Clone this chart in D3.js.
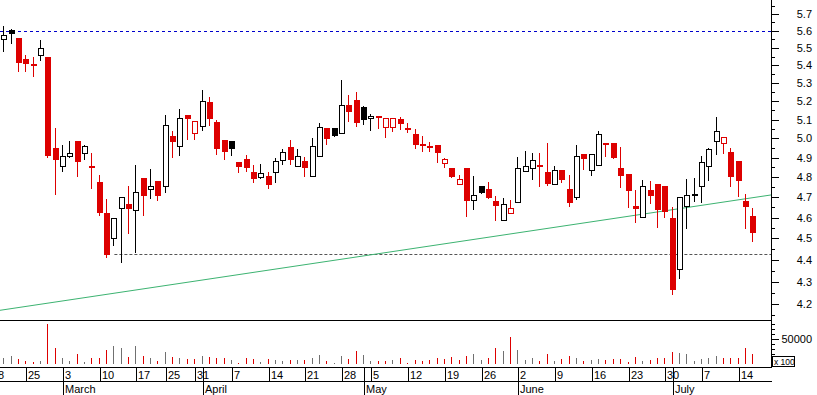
<!DOCTYPE html>
<html>
<head>
<meta charset="utf-8">
<script src="https://cdn.jsdelivr.net/npm/d3@7"></script>
<style>
  body { margin: 0; background: #fff; }
  text { font-family: "Liberation Sans", Arial, sans-serif; }
</style>
</head>
<body>
<svg id="chart" width="817" height="395"></svg>
<script>
// Trading days shown on the chart
const dates = [
  "2008-02-20","2008-02-21","2008-02-22","2008-02-25","2008-02-26","2008-02-27","2008-02-28","2008-02-29",
  "2008-03-03","2008-03-04","2008-03-05","2008-03-06","2008-03-07","2008-03-10","2008-03-11","2008-03-12",
  "2008-03-13","2008-03-14","2008-03-17","2008-03-18","2008-03-19","2008-03-20","2008-03-25","2008-03-26",
  "2008-03-27","2008-03-28","2008-03-31",
  "2008-04-01","2008-04-02","2008-04-03","2008-04-04","2008-04-07","2008-04-08","2008-04-09","2008-04-10",
  "2008-04-11","2008-04-14","2008-04-15","2008-04-16","2008-04-17","2008-04-18","2008-04-21","2008-04-22",
  "2008-04-23","2008-04-24","2008-04-25","2008-04-28","2008-04-29","2008-04-30",
  "2008-05-02","2008-05-05","2008-05-06","2008-05-07","2008-05-08","2008-05-09","2008-05-12","2008-05-13",
  "2008-05-14","2008-05-15","2008-05-16","2008-05-19","2008-05-20","2008-05-21","2008-05-22","2008-05-23",
  "2008-05-26","2008-05-27","2008-05-28","2008-05-29","2008-05-30",
  "2008-06-02","2008-06-03","2008-06-04","2008-06-05","2008-06-06","2008-06-09","2008-06-10","2008-06-11",
  "2008-06-12","2008-06-13","2008-06-16","2008-06-17","2008-06-18","2008-06-19","2008-06-20","2008-06-23",
  "2008-06-24","2008-06-25","2008-06-26","2008-06-27","2008-06-30",
  "2008-07-01","2008-07-02","2008-07-03","2008-07-04","2008-07-07","2008-07-08","2008-07-09","2008-07-10",
  "2008-07-11","2008-07-14","2008-07-15","2008-07-16"
];

const open = [
  5.55,5.604,5.558,5.436,5.408,5.457,5.447,4.95,4.855,4.91,4.986,4.922,4.858,4.775,4.621,4.504,4.646,4.665,4.636,4.796,
  4.739,4.78,4.754,5.013,4.959,5.125,5.027,5.064,5.195,5.087,4.99,4.986,4.877,4.893,4.826,4.803,4.806,4.828,4.886,4.955,
  4.858,4.883,4.805,4.907,5.055,5.055,5.027,5.179,5.206,5.168,5.107,5.118,5.059,5.062,5.102,5.057,5.023,4.97,4.962,4.965,
  4.873,4.848,4.764,4.848,4.685,4.754,4.739,4.682,4.589,4.623,4.675,4.83,4.845,4.862,4.824,4.767,4.839,4.741,4.699,4.917,
  4.835,4.86,4.974,4.974,4.847,4.814,4.656,4.603,4.736,4.765,4.756,4.6,4.357,4.656,4.716,4.754,4.855,4.984,4.977,4.931,
  4.883,4.682,4.608
];
const high = [
  5.63,5.608,5.558,5.458,5.447,5.545,5.447,5.055,4.965,4.986,4.986,4.965,4.926,4.809,4.691,4.597,4.70,4.754,4.86,4.796,
  4.842,4.78,5.125,5.039,5.157,5.125,5.095,5.262,5.223,5.098,4.99,4.986,4.877,4.915,4.863,4.866,4.826,4.90,4.945,4.99,
  4.945,4.905,5.0,5.081,5.055,5.055,5.318,5.234,5.251,5.174,5.131,5.118,5.11,5.11,5.114,5.084,5.051,5.013,4.981,4.965,
  4.896,4.848,4.809,4.848,4.806,4.754,4.775,4.706,4.697,4.687,4.904,4.934,4.924,4.924,4.974,4.858,4.839,4.809,4.965,4.917,
  4.92,5.039,4.976,4.976,4.955,4.814,4.736,4.785,4.78,4.765,4.756,4.652,4.699,4.79,4.795,4.91,4.95,5.114,5.009,4.95,
  4.883,4.715,4.645
];
const low = [
  5.48,5.53,5.37,5.366,5.341,5.43,4.905,4.717,4.833,4.905,4.808,4.891,4.747,4.611,4.411,4.467,4.391,4.528,4.437,4.614,
  4.695,4.687,4.727,4.905,4.915,4.998,4.998,5.043,5.073,4.92,4.894,4.915,4.828,4.833,4.777,4.798,4.747,4.777,4.868,4.868,
  4.858,4.808,4.805,4.907,4.973,5.014,5.027,5.091,5.066,5.078,5.045,5.057,5.009,5.041,5.052,5.034,4.952,4.935,4.935,4.879,
  4.853,4.803,4.764,4.608,4.641,4.722,4.694,4.589,4.589,4.623,4.675,4.83,4.793,4.757,4.762,4.767,4.777,4.659,4.69,4.84,
  4.813,4.86,4.91,4.90,4.752,4.654,4.581,4.603,4.67,4.554,4.604,4.245,4.317,4.549,4.683,4.677,4.787,4.92,4.926,4.757,
  4.708,4.549,4.49
];
const close = [
  5.575,5.58,5.415,5.41,5.398,5.498,4.91,4.889,4.907,4.922,4.877,4.959,4.853,4.624,4.424,4.597,4.699,4.644,4.724,4.708,
  4.754,4.708,5.07,4.983,5.107,5.102,5.095,5.199,5.105,4.946,4.93,4.946,4.853,4.849,4.793,4.82,4.762,4.881,4.928,4.889,
  4.907,4.849,4.959,5.061,4.999,5.014,5.177,5.142,5.083,5.10,5.12,5.115,5.11,5.11,5.078,5.048,4.967,4.962,4.955,4.926,
  4.891,4.803,4.789,4.683,4.71,4.722,4.694,4.659,4.665,4.646,4.845,4.855,4.886,4.86,4.767,4.839,4.787,4.67,4.907,4.891,
  4.92,5.022,4.97,4.90,4.808,4.733,4.641,4.754,4.708,4.637,4.626,4.264,4.699,4.71,4.711,4.876,4.944,5.038,5.009,4.803,
  4.782,4.65,4.528
];
// volume in units of 100 shares
const volume = [
  12700,16700,10700,6000,4700,6000,80000,32700,12700,6000,20000,4700,11300,11300,28700,36000,32000,14700,36000,16700,
  12000,6000,24700,14700,12700,10700,10700,16700,14700,12700,12700,8700,2700,12700,10700,4700,10700,8000,6000,8700,
  8700,8000,12700,18000,6000,2700,16000,10700,26000,18500,6000,6000,6000,8000,12000,2600,8000,6000,8700,12700,
  10700,14700,8700,16700,20700,8700,12700,32700,26700,54000,28700,8700,12700,6000,20700,6000,10700,16700,12700,6000,
  8700,10700,8700,10700,10700,4700,14700,6000,8700,12700,12700,24700,22700,20700,7000,10000,12000,16000,12000,12000,
  12000,32000,20000
];

// price axis labels and drawn levels
const priceTicks = [4.2,4.3,4.4,4.5,4.6,4.7,4.8,4.9,5.0,5.1,5.2,5.3,5.4,5.5,5.6,5.7];
const volumeTicks = [10000,20000,30000,40000,50000,60000,70000,80000];
const resistanceLevel = 5.6;
const supportLevel = 4.425;
const supportStart = "2008-03-12";
const trendFrom = { date: "2008-02-20", price: 4.175 };
const trendTo = { date: "2008-07-16", price: 4.698 };

const RED = "#dd0000", BLACK = "#000", GREY = "#707070";

const svg = d3.select("#chart");
const plotRight = 771, mainBottom = 320, volBase = 364, axisTop = 367, rowLine = 381;

const parse = d3.timeParse("%Y-%m-%d");
const days = dates.map(parse);
const idx = s => dates.indexOf(s);

// Scales
const x = d3.scaleLinear().domain([0, dates.length - 1]).range([4.2, 753.4]);
const y = d3.scaleLog().domain([4.2, 5.7]).range([304, 14]);
const yv = d3.scaleLinear().domain([0, 50000]).range([volBase, 339]);

svg.append("rect").attr("width", 817).attr("height", 395).attr("fill", "#fff");

svg.append("defs").append("clipPath").attr("id", "mainClip")
  .append("rect").attr("width", plotRight).attr("height", mainBottom);

const main = svg.append("g").attr("clip-path", "url(#mainClip)");

// Reference lines
main.append("line")
  .attr("x1", 0).attr("x2", plotRight)
  .attr("y1", Math.round(y(resistanceLevel)) + 0.5).attr("y2", Math.round(y(resistanceLevel)) + 0.5)
  .attr("stroke", "#0000cc").attr("stroke-dasharray", "3,3");

main.append("line")
  .attr("x1", x(idx(supportStart))).attr("x2", plotRight)
  .attr("y1", Math.round(y(supportLevel)) + 0.5).attr("y2", Math.round(y(supportLevel)) + 0.5)
  .attr("stroke", "#555").attr("stroke-dasharray", "3,2");

// Trend line, straight on the log scale
const t0 = idx(trendFrom.date), t1 = idx(trendTo.date);
const slope = (Math.log(trendTo.price) - Math.log(trendFrom.price)) / (t1 - t0);
const trendAt = i => Math.exp(Math.log(trendFrom.price) + slope * (i - t0));
main.append("line")
  .attr("x1", 0).attr("y1", y(trendAt(x.invert(0))))
  .attr("x2", plotRight).attr("y2", y(trendAt(x.invert(plotRight))))
  .attr("stroke", "#3cb371").attr("stroke-width", 1);

// Candles
const candles = dates.map((d, i) => {
  const prev = i > 0 ? close[i - 1] : close[i] - 1;
  return {
    i: i, o: open[i], h: high[i], l: low[i], c: close[i], v: volume[i],
    colour: close[i] > prev ? BLACK : RED,
    volColour: close[i] >= prev ? GREY : RED,
    hollow: close[i] > open[i]
  };
});

const cg = main.selectAll(".candle").data(candles).enter()
  .append("g").attr("class", "candle");

cg.append("line")
  .attr("x1", d => Math.round(x(d.i) - 3) + 2.5)
  .attr("x2", d => Math.round(x(d.i) - 3) + 2.5)
  .attr("y1", d => Math.round(y(d.h)))
  .attr("y2", d => Math.round(y(d.l)) + 1)
  .attr("stroke", d => d.colour);

cg.append("rect")
  .attr("x", d => Math.round(x(d.i) - 3) + (d.hollow ? 0.5 : 0))
  .attr("width", d => d.hollow ? 5 : 6)
  .attr("y", d => Math.round(y(Math.max(d.o, d.c))) + (d.hollow ? 0.5 : 0))
  .attr("height", d => {
    const h = Math.round(y(Math.min(d.o, d.c))) - Math.round(y(Math.max(d.o, d.c)));
    return d.hollow ? Math.max(h, 1) : Math.max(h, 2);
  })
  .attr("fill", d => d.hollow ? "#fff" : d.colour)
  .attr("stroke", d => d.hollow ? d.colour : "none");

// Volume bars
svg.selectAll(".vol").data(candles).enter()
  .append("rect").attr("class", "vol")
  .attr("x", d => Math.round(x(d.i) - 3) + 2)
  .attr("width", 1)
  .attr("y", d => Math.round(yv(d.v)))
  .attr("height", d => volBase - Math.round(yv(d.v)))
  .attr("fill", d => d.volColour);

// Frame lines
const frame = svg.append("g").attr("stroke", "#000").attr("shape-rendering", "crispEdges");
frame.append("line").attr("x1", 0).attr("x2", plotRight + 1).attr("y1", mainBottom).attr("y2", mainBottom);
frame.append("line").attr("x1", 0).attr("x2", plotRight + 1).attr("y1", axisTop).attr("y2", axisTop);
frame.append("line").attr("x1", 0).attr("x2", plotRight + 1).attr("y1", rowLine).attr("y2", rowLine);
frame.append("line").attr("x1", plotRight).attr("x2", plotRight).attr("y1", 0).attr("y2", axisTop);

// Price axis (right)
const minorPrice = priceTicks.map(p => +(p - 0.05).toFixed(2)).concat([5.75]);
const axisG = svg.append("g").attr("stroke", "#000").attr("shape-rendering", "crispEdges");
axisG.selectAll(".pmaj").data(priceTicks).enter().append("line")
  .attr("x1", plotRight).attr("x2", plotRight + 8)
  .attr("y1", d => Math.round(y(d))).attr("y2", d => Math.round(y(d)));
axisG.selectAll(".pmin").data(minorPrice.filter(p => y(p) > 0 && y(p) < mainBottom)).enter().append("line")
  .attr("x1", plotRight).attr("x2", plotRight + 4)
  .attr("y1", d => Math.round(y(d))).attr("y2", d => Math.round(y(d)));

svg.selectAll(".plabel").data(priceTicks).enter().append("text")
  .attr("x", 812).attr("y", d => y(d) + 4)
  .attr("text-anchor", "end").attr("font-size", 11)
  .text(d => d.toFixed(1));

// Volume axis
axisG.selectAll(".vtick").data(volumeTicks).enter().append("line")
  .attr("x1", plotRight).attr("x2", d => plotRight + (d === 50000 ? 8 : 4))
  .attr("y1", d => Math.round(yv(d))).attr("y2", d => Math.round(yv(d)));
svg.append("text").attr("x", 812).attr("y", yv(50000) + 4)
  .attr("text-anchor", "end").attr("font-size", 11).text("50000");
svg.append("rect").attr("x", 772.5).attr("y", 356.5).attr("width", 22).attr("height", 10)
  .attr("fill", "#fff").attr("stroke", "#000");
svg.append("text").attr("x", 774).attr("y", 364.5).attr("font-size", 8.5).text("x 100");

// Date axis: week starts and month starts
const weekTicks = [];
const monthTicks = [];
days.forEach((d, i) => {
  const monday = d3.timeMonday.floor(d);
  if (i === 0) {
    weekTicks.push({ pos: i - d3.timeDay.count(monday, d), label: monday.getDate() });
  } else if (+d3.timeMonday.floor(days[i - 1]) !== +monday) {
    weekTicks.push({ pos: i, label: d.getDate() });
  }
  if (i > 0 && d.getMonth() !== days[i - 1].getMonth()) {
    monthTicks.push({ pos: i, label: d3.timeFormat("%B")(d) });
  }
});

const dateG = svg.append("g");
dateG.selectAll(".wk").data(weekTicks).enter().append("line")
  .attr("x1", d => Math.round(x(d.pos)) + 0.5).attr("x2", d => Math.round(x(d.pos)) + 0.5)
  .attr("y1", axisTop).attr("y2", rowLine)
  .attr("stroke", "#000");
dateG.selectAll(".wkl").data(weekTicks).enter().append("text")
  .attr("x", d => Math.round(x(d.pos)) + 2).attr("y", 379)
  .attr("font-size", 11).text(d => d.label);

dateG.selectAll(".mo").data(monthTicks).enter().append("line")
  .attr("x1", d => Math.round(x(d.pos)) + 0.5).attr("x2", d => Math.round(x(d.pos)) + 0.5)
  .attr("y1", axisTop).attr("y2", 395)
  .attr("stroke", "#000");
dateG.selectAll(".mol").data(monthTicks).enter().append("text")
  .attr("x", d => Math.round(x(d.pos)) + 2).attr("y", 393)
  .attr("font-size", 11).text(d => d.label);
</script>
</body>
</html>
